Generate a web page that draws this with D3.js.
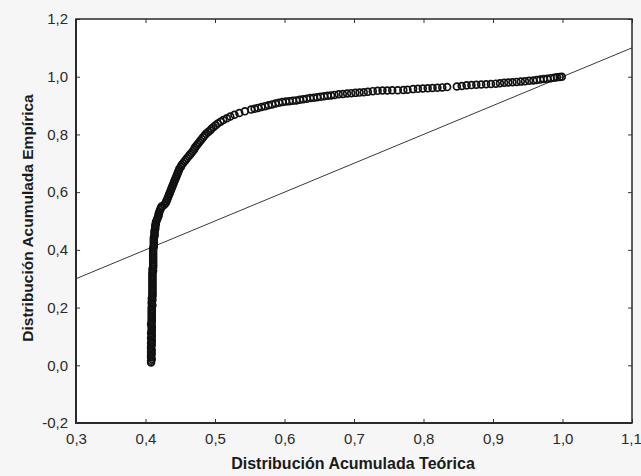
<!DOCTYPE html>
<html><head><meta charset="utf-8">
<script src="https://cdn.jsdelivr.net/npm/d3@7"></script>
<style>
html,body{margin:0;padding:0;background:#f6f6f6;}
svg{display:block;}
</style></head>
<body>
<svg id="chart" width="641" height="476"></svg>
<script>
const theoretical = [
0.408,0.408,0.409,0.408,0.408,0.409,0.408,0.409,0.408,0.408,
0.409,0.408,0.409,0.409,0.408,0.409,0.409,0.408,0.409,0.409,
0.409,0.409,0.408,0.409,0.409,0.409,0.409,0.409,0.409,0.409,
0.409,0.409,0.409,0.410,0.409,0.409,0.410,0.409,0.410,0.410,
0.410,0.410,0.410,0.410,0.410,0.410,0.410,0.410,0.410,0.410,
0.410,0.410,0.410,0.411,0.410,0.411,0.411,0.411,0.411,0.411,
0.411,0.411,0.411,0.411,0.411,0.411,0.411,0.412,0.412,0.412,
0.412,0.412,0.412,0.413,0.413,0.413,0.413,0.414,0.414,0.414,
0.415,0.415,
0.416,0.417,0.418,0.419,0.419,0.420,0.421,0.422,0.423,
0.424,0.427,0.429,0.430,0.431,0.432,0.433,0.434,0.435,0.436,
0.437,0.438,0.439,0.440,0.441,0.442,0.443,0.444,0.445,0.446,
0.447,0.448,0.449,0.451,0.452,0.454,0.456,0.458,0.460,0.462,
0.464,0.466,0.468,0.470,0.471,0.473,0.475,0.477,0.479,0.481,
0.483,0.485,0.487,0.490,0.493,0.495,0.498,0.501,0.504,0.508,
0.512,0.517,0.522,0.528,0.535,0.543,
0.552,0.557,0.562,0.567,0.572,0.577,0.582,0.587,0.592,0.597,
0.602,0.607,0.612,0.617,0.622,0.627,0.632,0.637,0.642,0.647,
0.652,0.657,0.662,0.667,0.672,0.678,0.684,0.690,0.696,0.702,
0.708,0.714,0.720,0.727,0.734,0.741,0.748,0.755,0.763,0.771,
0.777,0.785,0.792,0.799,0.806,0.813,0.820,0.827,0.834,0.848,
0.855,0.862,0.869,0.876,0.883,0.890,0.897,0.904,0.910,0.916,
0.922,0.928,0.934,0.940,0.946,0.952,0.958,0.963,0.968,0.973,
0.978,0.983,0.988,0.992,0.996,0.999
];
const empirical = [
0.010,0.016,0.022,0.028,0.034,0.040,0.046,0.052,0.058,0.064,
0.070,0.076,0.082,0.088,0.094,0.100,0.106,0.112,0.118,0.124,
0.130,0.136,0.142,0.148,0.154,0.160,0.166,0.172,0.178,0.184,
0.190,0.196,0.202,0.208,0.214,0.220,0.226,0.232,0.238,0.244,
0.250,0.256,0.262,0.268,0.274,0.280,0.286,0.292,0.298,0.304,
0.310,0.316,0.322,0.328,0.334,0.340,0.346,0.352,0.358,0.364,
0.370,0.376,0.382,0.388,0.394,0.400,0.406,0.412,0.418,0.424,
0.430,0.436,0.442,0.448,0.454,0.460,0.466,0.472,0.478,0.484,
0.490,0.496,
0.502,0.508,0.514,0.520,0.526,0.532,0.538,0.544,0.550,
0.550,0.556,0.562,0.568,0.574,0.580,0.586,0.592,0.598,0.604,
0.610,0.616,0.622,0.628,0.634,0.640,0.646,0.652,0.658,0.664,
0.670,0.676,0.682,0.688,0.694,0.700,0.706,0.712,0.718,0.724,
0.730,0.736,0.742,0.748,0.754,0.760,0.766,0.772,0.778,0.784,
0.790,0.796,0.802,0.808,0.814,0.820,0.826,0.832,0.838,0.844,
0.850,0.856,0.862,0.868,0.874,0.880,
0.886,0.889,0.892,0.895,0.898,0.901,0.904,0.907,0.910,0.912,
0.914,0.915,0.917,0.918,0.920,0.922,0.924,0.926,0.927,0.929,
0.931,0.932,0.934,0.935,0.937,0.939,0.940,0.942,0.943,0.944,
0.945,0.946,0.948,0.950,0.951,0.952,0.952,0.953,0.953,0.954,
0.955,0.957,0.958,0.959,0.960,0.961,0.962,0.963,0.964,0.966,
0.968,0.970,0.971,0.972,0.973,0.974,0.975,0.976,0.977,0.979,
0.980,0.981,0.982,0.983,0.984,0.986,0.987,0.989,0.990,0.992,
0.993,0.995,0.996,0.998,0.999,1.000
];
// Reference line (y = x) endpoints
const refX = [0.3, 1.1];
const refY = [0.3, 1.1];
// Tick values
const xTicks = [0.3,0.4,0.5,0.6,0.7,0.8,0.9,1.0,1.1];
const yTicks = [-0.2,0.0,0.2,0.4,0.6,0.8,1.0,1.2];
const xTitle = "Distribución Acumulada Teórica";
const yTitle = "Distribución Acumulada Empírica";

const svg = d3.select("#chart");
const L = 76, R = 632, T = 19, B = 423;
const x = d3.scaleLinear().domain([0.3,1.1]).range([L,R]);
const y = d3.scaleLinear().domain([-0.2,1.2]).range([B,T]);
const fmt = d => d3.format(".1f")(d).replace(".", ",").replace("−","-");
const font = "'Liberation Sans', Arial, sans-serif";

svg.append("rect").attr("x",L).attr("y",T).attr("width",R-L).attr("height",B-T).attr("fill","#fff");

const clip = svg.append("clipPath").attr("id","clip");
clip.append("rect").attr("x",L).attr("y",T).attr("width",R-L).attr("height",B-T);

// reference line
svg.append("path")
  .datum(refX.map((v,i)=>[v,refY[i]]))
  .attr("clip-path","url(#clip)")
  .attr("d", d3.line().x(d=>x(d[0])).y(d=>y(d[1])))
  .attr("fill","none").attr("stroke","#3a3a3a").attr("stroke-width",1);

// points
svg.append("g").selectAll("circle")
  .data(theoretical.map((v,i)=>[v,empirical[i]]))
  .join("circle")
  .attr("cx",d=>x(d[0])).attr("cy",d=>y(d[1])).attr("r",3.4)
  .attr("fill","none").attr("stroke","#111").attr("stroke-width",1.7);

// axes
function styleAxis(g, showLabels){
  g.select(".domain").remove();
  g.selectAll(".tick line").attr("stroke","#333").attr("stroke-width",1);
  g.selectAll(".tick text").attr("fill","#2a2a2a").style("font-family",font).style("font-size","15px");
  if(!showLabels) g.selectAll(".tick text").remove();
}
svg.append("g").attr("transform",`translate(0,${B})`)
  .call(d3.axisBottom(x).tickValues(xTicks).tickFormat(fmt).tickSize(-4).tickPadding(10))
  .call(g=>styleAxis(g,true))
  .call(g=>g.selectAll(".tick text").filter(d=>d===1.1).attr("text-anchor","end").attr("dx","0.62em"));
svg.append("g").attr("transform",`translate(0,${T})`)
  .call(d3.axisTop(x).tickValues(xTicks).tickSize(-4))
  .call(g=>styleAxis(g,false));
svg.append("g").attr("transform",`translate(${L},0)`)
  .call(d3.axisLeft(y).tickValues(yTicks).tickFormat(fmt).tickSize(-4).tickPadding(8))
  .call(g=>styleAxis(g,true));
svg.append("g").attr("transform",`translate(${R},0)`)
  .call(d3.axisRight(y).tickValues(yTicks).tickSize(-4))
  .call(g=>styleAxis(g,false));

// frame
svg.append("rect").attr("x",L).attr("y",T).attr("width",R-L).attr("height",B-T)
  .attr("fill","none").attr("stroke","#2a2a2a").attr("stroke-width",1.5);
svg.append("path").attr("d",`M${L},${T}V${B}H${R}`).attr("fill","none").attr("stroke","#2a2a2a").attr("stroke-width",2);

// titles
svg.append("text").attr("x",353).attr("y",469).attr("text-anchor","middle")
  .style("font-family",font).style("font-size","16px").style("font-weight","bold").attr("fill","#1a1a1a")
  .text(xTitle);
svg.append("text").attr("transform",`translate(33,218) rotate(-90)`).attr("text-anchor","middle")
  .style("font-family",font).style("font-size","15.5px").style("font-weight","bold").attr("fill","#1a1a1a")
  .text(yTitle);
</script>
</body></html>
